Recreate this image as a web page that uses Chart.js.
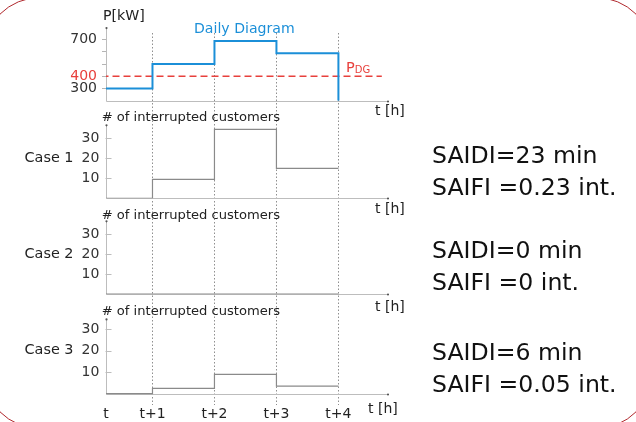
<!DOCTYPE html>
<html>
<head>
<meta charset="utf-8">
<script src="https://cdn.jsdelivr.net/npm/chart.js@4.4.1/dist/chart.umd.min.js"></script>
<style>
  html, body { margin: 0; padding: 0; background: #fff; }
  body { width: 636px; height: 422px; position: relative; overflow: hidden; font-family: "DejaVu Sans", sans-serif; }
  #chart { position: absolute; left: 0; top: 0; }
  .frame { position: absolute; left: -17px; top: -3px; width: 670px; height: 432px; box-sizing: border-box;
           border: 1.5px solid #b0282d; border-radius: 57px; }
  .idx { position: absolute; left: 432px; font-size: 23.6px; line-height: 32px; color: #111; white-space: nowrap; }
</style>
</head>
<body>
<div class="frame"></div>
<canvas id="chart" width="636" height="422"></canvas>
<script>
// time axis: hour boundaries and their labels
const hours = [0, 1, 2, 3, 4];
const tickLabels = ['t', 't+1', 't+2', 't+3', 't+4'];

// daily diagram in kW (drops to the axis floor at t+4)
const powerKW = [300, 500, 690, 590, 200];
const pDG = 400;
const pDGSpan = [0, 4.7];
const powerTicks = [300, 400, 500, 600, 700];
const powerTickLabels = ['300', '400', '', '', '700'];

// interrupted customers for each case
const case1 = [0, 9.5, 34.5, 15, 15];
const case2 = [0, 0, 0, 0, 0];
const case3 = [0, 2.5, 9, 3.5, 3.5];
const customerTicks = [10, 20, 30];
const caseNames = ['Case 1', 'Case 2', 'Case 3'];

// reliability indices
const saidiMin = ['23', '0', '6'];
const saifiInt = ['0.23', '0', '0.05'];

const BLUE = '#1b8fd8';
const RED = '#e8403c';
const GRAY = '#8a8a8a';
const FONT = '"DejaVu Sans", sans-serif';

Chart.defaults.font.family = FONT;

const idxTops = [139, 233.5, 336];
saidiMin.forEach((s, i) => {
  const d = document.createElement('div');
  d.className = 'idx';
  d.style.top = idxTops[i] + 'px';
  d.innerHTML = 'SAIDI=' + s + ' min<br>SAIFI =' + saifiInt[i] + ' int.';
  document.body.appendChild(d);
});

const pts = ys => hours.map((h, i) => ({ x: h, y: ys[i] }));

// panel layout, top to bottom
const panels = [
  { id: 'yP', base: 200, top: 795 },
  { id: 'y1', base: 0, top: 36.5, name: caseNames[0], unitDx: 0, unitDy: 11.5 },
  { id: 'y2', base: 0, top: 36.5, name: caseNames[1], unitDx: 0, unitDy: 13.5 },
  { id: 'y3', base: 0, top: 34.5, name: caseNames[2], unitDx: -7, unitDy: 16 }
];

function customerScale(weight, min, max) {
  return {
    type: 'linear', position: 'left', stack: 'panels', stackWeight: weight, min: min, max: max,
    afterBuildTicks: s => { s.ticks = customerTicks.map(v => ({ value: v })); },
    afterFit: s => { s.width = 106; },
    ticks: { color: '#333', font: { size: 14 }, padding: 6.7, autoSkip: false },
    grid: { drawOnChartArea: false, drawTicks: false },
    border: { display: false }
  };
}

const panelPlugin = {
  id: 'panelPlugin',
  beforeDatasetsDraw(chart) {
    const ctx = chart.ctx;
    const area = chart.chartArea;
    const ax = Math.round(area.left) + 0.5;
    ctx.save();
    panels.forEach(p => {
      const s = chart.scales[p.id];
      const yb = Math.round(s.getPixelForValue(p.base)) + 0.5;
      const yt = s.getPixelForValue(p.top);
      ctx.lineWidth = 1;
      ctx.strokeStyle = '#bdbdbd';
      ctx.beginPath();
      ctx.moveTo(ax, yb);
      ctx.lineTo(ax, yt);
      ctx.moveTo(ax, yb);
      ctx.lineTo(area.right, yb);
      ctx.stroke();
      if (p.name) {
        ctx.beginPath();
        s.ticks.forEach(t => {
          const y = Math.round(s.getPixelForValue(t.value)) + 0.5;
          ctx.moveTo(ax - 1, y);
          ctx.lineTo(ax + 5, y);
        });
        ctx.stroke();
      }
      ctx.fillStyle = '#555';
      ctx.beginPath();
      ctx.arc(ax, yt, 1.1, 0, Math.PI * 2);
      ctx.arc(area.right, yb, 1.1, 0, Math.PI * 2);
      ctx.fill();
    });
    ctx.restore();
  },
  afterDraw(chart) {
    const ctx = chart.ctx;
    const area = chart.chartArea;
    const sP = chart.scales.yP;
    ctx.save();
    ctx.textBaseline = 'middle';
    ctx.textAlign = 'left';
    ctx.fillStyle = '#222';
    ctx.font = '14.2px ' + FONT;
    ctx.fillText('P[kW]', area.left - 3, 16.5);
    ctx.fillStyle = BLUE;
    ctx.font = '14.1px ' + FONT;
    ctx.fillText('Daily Diagram', area.left + 88, 29.5);

    // P_DG label with subscript
    ctx.textBaseline = 'alphabetic';
    ctx.fillStyle = RED;
    ctx.font = '14.5px ' + FONT;
    const yDG = sP.getPixelForValue(pDG) - 4;
    ctx.fillText('P', 346, yDG);
    const pw = ctx.measureText('P').width;
    ctx.font = '10px ' + FONT;
    ctx.fillText('DG', 346 + pw, yDG + 1);

    ctx.textBaseline = 'middle';
    panels.forEach(p => {
      const s = chart.scales[p.id];
      const yb = s.getPixelForValue(p.base);
      ctx.fillStyle = '#222';
      ctx.textAlign = 'left';
      ctx.font = '14px ' + FONT;
      ctx.fillText('t [h]', area.right - 13 + (p.unitDx || 0), yb + (p.unitDy || 11));
      if (p.name) {
        ctx.font = '13.1px ' + FONT;
        ctx.fillText('# of interrupted customers', area.left - 4.3, s.top + 17);
        ctx.textAlign = 'right';
        ctx.font = '14.4px ' + FONT;
        ctx.fillText(p.name, 73.5, s.getPixelForValue(20));
      }
    });
    ctx.restore();
  }
};

new Chart(document.getElementById('chart'), {
  type: 'line',
  data: {
    datasets: [
      { label: 'Daily Diagram', data: pts(powerKW), yAxisID: 'yP', stepped: true,
        borderColor: BLUE, borderWidth: 2, pointRadius: 0 },
      { label: 'P_DG', data: pDGSpan.map(x => ({ x: x, y: pDG })), yAxisID: 'yP',
        borderColor: RED, borderWidth: 1.5, borderDash: [7, 4], pointRadius: 0 },
      { label: caseNames[0], data: pts(case1), yAxisID: 'y1', stepped: true,
        borderColor: GRAY, borderWidth: 1.2, pointRadius: 0 },
      { label: caseNames[1], data: pts(case2), yAxisID: 'y2', stepped: true,
        borderColor: GRAY, borderWidth: 1.4, pointRadius: 0 },
      { label: caseNames[2], data: pts(case3), yAxisID: 'y3', stepped: true,
        borderColor: GRAY, borderWidth: 1.2, pointRadius: 0 }
    ]
  },
  options: {
    responsive: false,
    animation: false,
    layout: { padding: { left: 0, top: 33, right: 248, bottom: 0 } },
    plugins: { legend: { display: false }, tooltip: { enabled: false } },
    scales: {
      x: {
        type: 'linear', position: 'bottom', min: 0.25, max: 4.8,
        afterBuildTicks: s => { s.ticks = hours.map(h => ({ value: Math.max(h, s.min) })); },
        afterFit: s => { s.height = 17; },
        ticks: { callback: (v, i) => tickLabels[i], color: '#222', font: { size: 14 }, padding: 1,
                 maxRotation: 0, autoSkip: false },
        grid: { color: c => c.index === 0 ? 'rgba(0,0,0,0)' : '#8f8f8f', lineWidth: 1, drawTicks: false },
        border: { display: false, dash: [1.5, 2] }
      },
      // defined bottom to top: the last left axis in a stack is placed on top
      y3: customerScale(110.7, -5.26, 46.2),
      y2: customerScale(96, 0, 48),
      y1: customerScale(97.6, 0, 48.8),
      yP: {
        type: 'linear', position: 'left', stack: 'panels', stackWeight: 67.7, min: 200, max: 755,
        afterBuildTicks: s => { s.ticks = powerTicks.map(v => ({ value: v })); },
        afterFit: s => { s.width = 106; },
        ticks: { callback: (v, i) => powerTickLabels[i], font: { size: 14 }, padding: 5, autoSkip: false,
                 color: c => (c.tick && c.tick.value === pDG) ? RED : '#333' },
        grid: { drawOnChartArea: false, tickLength: 4, tickColor: '#b5b5b5' },
        border: { display: false }
      }
    }
  },
  plugins: [panelPlugin]
});
</script>
</body>
</html>
